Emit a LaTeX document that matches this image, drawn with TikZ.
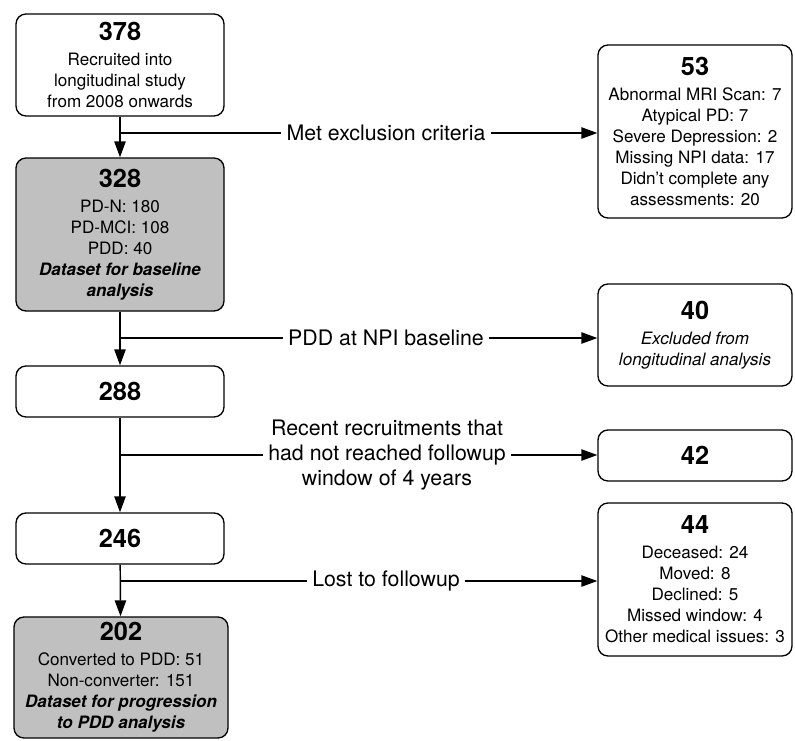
\documentclass[tikz,border=0pt]{standalone}
\usepackage{fontspec}
\setmainfont{TeX Gyre Heros}
\usetikzlibrary{arrows.meta}
\definecolor{boxgray}{RGB}{192,192,192}
\newcommand{\bignum}[1]{{\fontsize{19}{19}\selectfont\bfseries #1}}

\begin{document}
\begin{tikzpicture}[x=0.75pt,y=-0.75pt,
  box/.style={draw,rounded corners=7.5pt,line width=1pt,align=center,inner sep=0pt,
    font=\fontsize{12.8}{15.75}\selectfont},
  lab/.style={align=center,inner sep=4pt,font=\fontsize{16}{18.75}\selectfont},
  line/.style={line width=1.1pt},
  conn/.style={line width=1.1pt,-{Triangle[length=12pt,width=8.5pt]}}]
\useasboundingbox (0,0) rectangle (795,740);

% main column
\node[box,minimum width=156pt,minimum height=76.5pt](1) at (120,65){\bignum{378}\\[3pt]Recruited into\\longitudinal study\\from 2008 onwards};
\node[box,fill=boxgray,minimum width=156pt,minimum height=114.75pt](2) at (120,234.5){\bignum{328}\\[3pt]PD-N: 180\\PD-MCI: 108\\PDD: 40\\\textbf{\textit{Dataset for baseline}}\\\textbf{\textit{analysis}}};
\node[box,minimum width=156pt,minimum height=38.25pt](3) at (120,391.5){\bignum{288}};
\node[box,minimum width=156pt,minimum height=38.25pt](4) at (120,538.5){\bignum{246}};
\node[box,fill=boxgray,minimum width=160.5pt,minimum height=90.75pt](5) at (121,677.5){\bignum{202}\\[3pt]Converted to PDD: 51\\Non-converter: 151\\\textbf{\textit{Dataset for progression}}\\\textbf{\textit{to PDD analysis}}};

% excluded
\node[box,minimum width=145.5pt,minimum height=129.75pt](6) at (695,131.5){\bignum{53}\\[3pt]Abnormal MRI Scan: 7\\Atypical PD: 7\\Severe Depression: 2\\Missing NPI data: 17\\Didn’t complete any\\assessments: 20};
\node[box,minimum width=145.5pt,minimum height=76.5pt](7) at (695,335){\bignum{40}\\[3pt]\textit{Excluded from}\\\textit{longitudinal analysis}};
\node[box,minimum width=145.5pt,minimum height=38.25pt](8) at (695,455.5){\bignum{42}};
\node[box,minimum width=145.5pt,minimum height=114.75pt](9) at (695,579.5){\bignum{44}\\[3pt]Deceased: 24\\Moved: 8\\Declined: 5\\Missed window: 4\\Other medical issues: 3};

% labels
\node[lab](l1) at (386,133){Met exclusion criteria};
\node[lab](l2) at (386,338){PDD at NPI baseline};
\node[lab](l3) at (387,455){Recent recruitments that\\had not reached followup\\window of 4 years};
\node[lab](l4) at (386,581){Lost to followup};

\coordinate(b1) at (120,133);
\coordinate(b2) at (120,338);
\coordinate(b3) at (120,455);
\coordinate(b4) at (120,581);

\draw[conn](1)--(2);
\draw[conn](2)--(3);
\draw[conn](3)--(4);
\draw[conn](4)--(5);

\draw[line](b1)--(l1);
\draw[line](b2)--(l2);
\draw[line](b3)--(l3);
\draw[line](b4)--(l4);
\draw[conn](l1)--(l1 -| 6.west);
\draw[conn](l2)--(l2 -| 7.west);
\draw[conn](l3)--(l3 -| 8.west);
\draw[conn](l4)--(l4 -| 9.west);

\end{tikzpicture}
\end{document}
